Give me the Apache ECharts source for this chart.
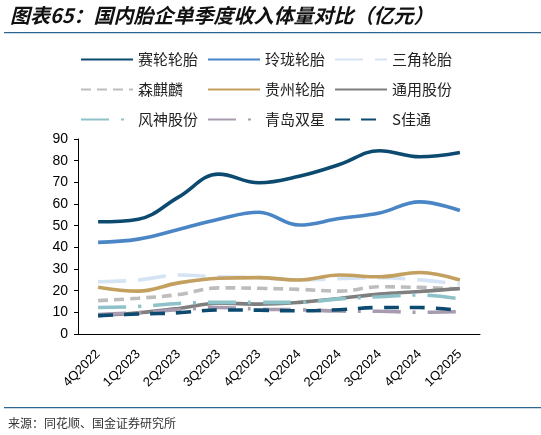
<!DOCTYPE html>
<html>
<head>
<meta charset="utf-8">
<script src="https://cdn.jsdelivr.net/npm/echarts@6/dist/echarts.min.js"></script>
<style>
  html, body { margin: 0; padding: 0; background: #fff; }
  #main { width: 541px; height: 435px; }
</style>
</head>
<body>
<div id="main"></div>
<script>
// 季度
var quarters = ['4Q2022','1Q2023','2Q2023','3Q2023','4Q2023','1Q2024','2Q2024','3Q2024','4Q2024','1Q2025'];
// 单季度收入（亿元）
var sailun   = [51.8, 53.0, 63.2, 73.8, 69.8, 72.8, 78.2, 84.6, 81.8, 83.8];
var linglong = [42.3, 43.8, 48.2, 53.0, 56.2, 50.3, 53.3, 55.8, 61.0, 57.0];
var sanjiao  = [24.1, 24.9, 27.2, 26.4, 26.0, 25.0, 25.5, 26.0, 25.0, 23.0];
var senqilin = [15.4, 16.5, 18.2, 21.3, 21.1, 20.6, 19.8, 21.8, 21.5, 20.8];
var guizhou  = [21.6, 19.8, 23.6, 25.7, 26.0, 24.9, 27.2, 26.4, 28.4, 24.9];
var tongyong = [8.5, 9.8, 11.8, 14.2, 13.8, 14.6, 16.4, 18.4, 19.6, 21.0];
var fengshen = [12.2, 12.7, 14.1, 14.6, 14.6, 14.6, 16.2, 17.2, 18.0, 16.2];
var shuangxing = [9.0, 9.8, 11.2, 12.2, 11.5, 11.2, 10.6, 10.5, 10.0, 10.3];
var jiatong  = [8.5, 9.2, 9.8, 11.1, 11.0, 10.7, 11.2, 12.2, 12.2, 10.9];
var yTicks = [0, 90, 10]; // min, max, interval

var chart = echarts.init(document.getElementById('main'));

function line(name, data, color, type) {
  return {
    name: name,
    type: 'line',
    data: data,
    smooth: 0.4,
    symbol: 'none',
    lineStyle: { color: color, width: 3.6, type: type || 'solid', cap: 'butt' },
    itemStyle: { color: color }
  };
}

var cjk = '"Noto Sans CJK SC", sans-serif';

var option = {
  animation: false,
  backgroundColor: '#fff',
  legend: {
    left: 75,
    top: 42,
    width: 390,
    itemWidth: 52,
    itemHeight: 10,
    itemGap: 5,
    itemStyle: { opacity: 0 }, // 图例只画线，不要圆点
    textStyle: { fontFamily: cjk, fontSize: 15, color: '#222', width: 64, height: 25, lineHeight: 25 }
  },
  grid: { left: 78, right: 61, top: 139, bottom: 101 },
  xAxis: {
    type: 'category',
    data: quarters,
    axisLine: { lineStyle: { color: '#000', width: 1 } },
    axisTick: { inside: true, length: 4, lineStyle: { color: '#000' } },
    axisLabel: { rotate: 45, fontFamily: 'Liberation Sans', fontSize: 13, color: '#000', margin: 18 }
  },
  yAxis: {
    type: 'value',
    min: yTicks[0],
    max: yTicks[1],
    interval: yTicks[2],
    splitLine: { show: false },
    axisLine: { show: true, lineStyle: { color: '#000', width: 1 } },
    axisTick: { show: true, length: 4, lineStyle: { color: '#000' } },
    axisLabel: { fontFamily: 'Liberation Sans', fontSize: 14, color: '#000', margin: 10 }
  },
  series: [
    line('赛轮轮胎', sailun, '#0c4a70'),
    line('玲珑轮胎', linglong, '#4a86c6'),
    line('三角轮胎', sanjiao, '#d5e4f4', [28, 12]),
    line('森麒麟', senqilin, '#bdbdbd', [10, 6]),
    line('贵州轮胎', guizhou, '#c3a05f'),
    line('通用股份', tongyong, '#7f7f7f'),
    line('风神股份', fengshen, '#8dc2c8', [28, 12, 3, 12]),
    line('青岛双星', shuangxing, '#a89bb0', [28, 12, 3, 12]),
    line('S佳通', jiatong, '#0c4a70', [15, 11])
  ],
  graphic: [
    {
      type: 'text', left: 10, top: 5,
      style: { text: '图表65：国内胎企单季度收入体量对比（亿元）', fontFamily: cjk, fontSize: 20, fontStyle: 'italic', fontWeight: 'bold', fill: '#111' }
    },
    { type: 'rect', shape: { x: 4, y: 32, width: 537, height: 1.2 }, style: { fill: '#2c6690' } },
    { type: 'rect', shape: { x: 4, y: 407, width: 537, height: 1.2 }, style: { fill: '#2c6690' } },
    {
      type: 'text', left: 8, top: 417,
      style: { text: '来源：同花顺、国金证券研究所', fontFamily: cjk, fontSize: 12, fill: '#333' }
    }
  ]
};

chart.setOption(option);
</script>
</body>
</html>
